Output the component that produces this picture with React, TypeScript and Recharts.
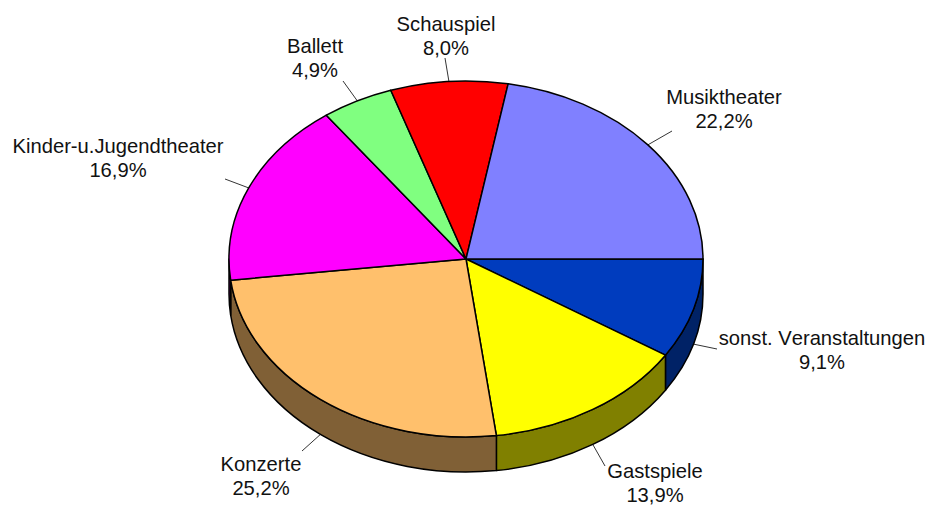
import { Pie, PieChart } from 'recharts'

const categories = ['sonst. Veranstaltungen', 'Gastspiele', 'Konzerte', 'Kinder-u.Jugendtheater', 'Ballett', 'Schauspiel', 'Musiktheater']
const shares = [9.1, 13.9, 25.2, 16.9, 4.9, 8.0, 22.2]
const topColors = ['#003CBE', '#FFFF00', '#FFC06C', '#FF00FF', '#80FF80', '#FF0000', '#8080FF']
const sideColors = ['#002266', '#808000', '#806036', '#800080', '#408040', '#800000', '#404080']

// where each label sits: text centre x, first baseline y, leader end
const labelX = [822, 655, 261, 118, 315, 446, 724]
const labelY = [345, 478, 471, 153, 53, 31, 104]
const leaderEndX = [717, 605, 302, 225, 343, 445, 672]
const leaderEndY = [349, 466, 451, 179, 81, 58, 131]

const rows = categories.map((name, i) => ({ name, value: shares[i], top: topColors[i], side: sideColors[i] }))
const topRows = rows.map(r => ({ ...r, fill: r.top }))
const sideRows = rows.map(r => ({ ...r, fill: r.side }))

const SQUASH = 178 / 237
const DEPTH = 35
const FONT = '"Liberation Sans", Arial, sans-serif'

const point = (cx: number, cy: number, r: number, deg: number) => ({
  x: cx + r * Math.cos((deg * Math.PI) / 180),
  y: cy + r * SQUASH * Math.sin((deg * Math.PI) / 180),
})

// recharts hands out counter-clockwise angles, the ellipse is drawn clockwise on screen
function TopSlice(props: any) {
  const { cx, cy, outerRadius: r, startAngle, endAngle, fill } = props
  const a = Math.min(-startAngle, -endAngle)
  const b = Math.max(-startAngle, -endAngle)
  const p1 = point(cx, cy, r, a)
  const p2 = point(cx, cy, r, b)
  const large = b - a > 180 ? 1 : 0
  const d = `M${cx},${cy} L${p1.x},${p1.y} A${r},${r * SQUASH} 0 ${large} 1 ${p2.x},${p2.y} Z`
  return <path d={d} fill={fill} stroke="#000" strokeWidth={1.5} strokeLinejoin="round" />
}

function SideSlice(props: any) {
  const { cx, cy, outerRadius: r, startAngle, endAngle, fill } = props
  const a = Math.max(Math.min(-startAngle, -endAngle), 0)
  const b = Math.min(Math.max(-startAngle, -endAngle), 180)
  if (b <= a) return <g />
  const p1 = point(cx, cy, r, a)
  const p2 = point(cx, cy, r, b)
  const ry = r * SQUASH
  const d = `M${p1.x},${p1.y} A${r},${ry} 0 0 1 ${p2.x},${p2.y} L${p2.x},${p2.y + DEPTH} A${r},${ry} 0 0 0 ${p1.x},${p1.y + DEPTH} Z`
  return <path d={d} fill={fill} stroke="#000" strokeWidth={1.5} strokeLinejoin="round" />
}

function SliceLabel(props: any) {
  const { cx, cy, outerRadius: r, midAngle, index } = props
  const deg = -midAngle
  const edge = point(cx, cy, r, deg)
  const front = Math.sin((deg * Math.PI) / 180) > 0
  const x = labelX[index]
  const y = labelY[index]
  const textStyle = { fontKerning: 'none' as const }
  return (
    <g>
      <line
        x1={edge.x}
        y1={edge.y + (front ? DEPTH : 0)}
        x2={leaderEndX[index]}
        y2={leaderEndY[index]}
        stroke="#000"
        strokeWidth={0.8}
      />
      <text x={x} y={y} textAnchor="middle" fontSize={20.2} fontFamily={FONT} fill="#111" style={textStyle}>
        {categories[index]}
      </text>
      <text x={x} y={y + 24} textAnchor="middle" fontSize={20.2} fontFamily={FONT} fill="#111" style={textStyle}>
        {shares[index].toFixed(1).replace('.', ',')}%
      </text>
    </g>
  )
}

export default function App() {
  return (
    <div style={{ position: 'absolute', left: 0, top: 0, width: 930, height: 507, background: '#fff' }}>
      <PieChart width={930} height={507} margin={{ top: 0, right: 0, bottom: 0, left: 0 }}>
        <Pie
          data={sideRows}
          dataKey="value"
          nameKey="name"
          cx={466}
          cy={259}
          outerRadius={237}
          startAngle={0}
          endAngle={-360}
          paddingAngle={0}
          shape={SideSlice}
          label={false}
          labelLine={false}
          isAnimationActive={false}
        />
        <Pie
          data={topRows}
          dataKey="value"
          nameKey="name"
          cx={466}
          cy={259}
          outerRadius={237}
          startAngle={0}
          endAngle={-360}
          paddingAngle={0}
          shape={TopSlice}
          label={SliceLabel}
          labelLine={false}
          isAnimationActive={false}
        />
      </PieChart>
    </div>
  )
}
